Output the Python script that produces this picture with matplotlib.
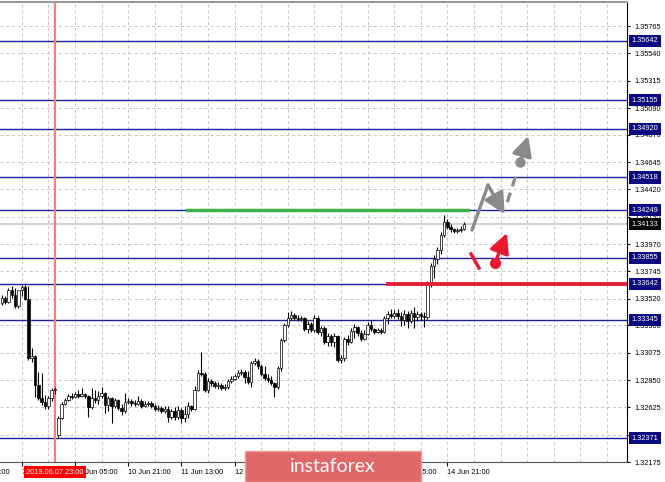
import numpy as np
import matplotlib.pyplot as plt
from matplotlib.patches import Rectangle
from matplotlib.transforms import blended_transform_factory

plt.rcParams['font.family'] = ['Liberation Sans', 'DejaVu Sans']

# GBP/USD H1 candles
opens = [1.33484, 1.33526, 1.33493, 1.33591, 1.33550, 1.33460, 1.33591, 1.33616, 1.33517, 1.33032,
         1.33048, 1.32809, 1.32702, 1.32669, 1.32636, 1.32702, 1.32768, 1.32398, 1.32537, 1.32653,
         1.32686, 1.32719, 1.32710, 1.32735, 1.32719, 1.32735, 1.32719, 1.32628, 1.32702, 1.32686,
         1.32719, 1.32743, 1.32644, 1.32702, 1.32636, 1.32686, 1.32620, 1.32595, 1.32669, 1.32677,
         1.32661, 1.32653, 1.32677, 1.32636, 1.32653, 1.32661, 1.32636, 1.32611, 1.32620, 1.32595,
         1.32611, 1.32546, 1.32595, 1.32546, 1.32603, 1.32537, 1.32570, 1.32636, 1.32611, 1.32768,
         1.32908, 1.32900, 1.32768, 1.32842, 1.32826, 1.32801, 1.32809, 1.32785, 1.32793, 1.32842,
         1.32859, 1.32883, 1.32908, 1.32916, 1.32875, 1.32834, 1.32991, 1.33007, 1.32966, 1.32900,
         1.32867, 1.32850, 1.32826, 1.32793, 1.32949, 1.33180, 1.33303, 1.33361, 1.33386, 1.33361,
         1.33353, 1.33361, 1.33271, 1.33312, 1.33262, 1.33361, 1.33246, 1.33279, 1.33164, 1.33213,
         1.33164, 1.33213, 1.33015, 1.33032, 1.33188, 1.33164, 1.33254, 1.33287, 1.33238, 1.33188,
         1.33229, 1.33303, 1.33271, 1.33246, 1.33262, 1.33246, 1.33361, 1.33394, 1.33378, 1.33402,
         1.33378, 1.33345, 1.33394, 1.33336, 1.33402, 1.33369, 1.33394, 1.33378, 1.33369, 1.33632,
         1.33788, 1.33846, 1.33920, 1.34044, 1.34151, 1.34110, 1.34094, 1.34077, 1.34085, 1.34094]
highs = [1.33550, 1.33542, 1.33608, 1.33624, 1.33608, 1.33583, 1.33632, 1.33649, 1.33624, 1.33114,
         1.33057, 1.32916, 1.32908, 1.32727, 1.32719, 1.32785, 1.32793, 1.32554, 1.32669, 1.32702,
         1.32735, 1.32743, 1.32752, 1.32768, 1.32785, 1.32743, 1.32727, 1.32785, 1.32768, 1.32760,
         1.32793, 1.32752, 1.32719, 1.32710, 1.32702, 1.32694, 1.32653, 1.32743, 1.32702, 1.32694,
         1.32686, 1.32719, 1.32694, 1.32677, 1.32677, 1.32677, 1.32653, 1.32644, 1.32636, 1.32636,
         1.32636, 1.32611, 1.32628, 1.32636, 1.32620, 1.32636, 1.32669, 1.32644, 1.32801, 1.32933,
         1.33081, 1.32916, 1.32867, 1.32859, 1.32842, 1.32834, 1.32826, 1.32818, 1.32859, 1.32883,
         1.32900, 1.32933, 1.32941, 1.32933, 1.32925, 1.33007, 1.33032, 1.33024, 1.32982, 1.32966,
         1.32900, 1.32883, 1.32834, 1.32966, 1.33197, 1.33320, 1.33410, 1.33419, 1.33402, 1.33386,
         1.33378, 1.33369, 1.33336, 1.33328, 1.33386, 1.33378, 1.33295, 1.33295, 1.33238, 1.33229,
         1.33238, 1.33221, 1.33057, 1.33205, 1.33221, 1.33279, 1.33312, 1.33295, 1.33262, 1.33262,
         1.33328, 1.33345, 1.33279, 1.33279, 1.33279, 1.33378, 1.33419, 1.33435, 1.33427, 1.33435,
         1.33410, 1.33427, 1.33419, 1.33427, 1.33452, 1.33419, 1.33410, 1.33410, 1.33665, 1.33813,
         1.33879, 1.33945, 1.34069, 1.34209, 1.34176, 1.34135, 1.34102, 1.34102, 1.34118, 1.34151]
lows = [1.33468, 1.33476, 1.33484, 1.33526, 1.33443, 1.33443, 1.33542, 1.33509, 1.33015, 1.32999,
        1.32710, 1.32686, 1.32644, 1.32611, 1.32611, 1.32677, 1.32735, 1.32381, 1.32529, 1.32644,
        1.32677, 1.32694, 1.32702, 1.32702, 1.32710, 1.32702, 1.32546, 1.32611, 1.32661, 1.32653,
        1.32702, 1.32579, 1.32595, 1.32496, 1.32620, 1.32603, 1.32562, 1.32579, 1.32653, 1.32636,
        1.32636, 1.32644, 1.32620, 1.32628, 1.32636, 1.32620, 1.32595, 1.32595, 1.32579, 1.32579,
        1.32504, 1.32529, 1.32521, 1.32529, 1.32496, 1.32504, 1.32537, 1.32595, 1.32603, 1.32760,
        1.32883, 1.32752, 1.32743, 1.32801, 1.32785, 1.32776, 1.32768, 1.32768, 1.32776, 1.32826,
        1.32850, 1.32867, 1.32892, 1.32826, 1.32818, 1.32793, 1.32974, 1.32941, 1.32883, 1.32850,
        1.32834, 1.32809, 1.32710, 1.32776, 1.32925, 1.33164, 1.33287, 1.33345, 1.33345, 1.33336,
        1.33336, 1.33254, 1.33238, 1.33246, 1.33246, 1.33229, 1.33213, 1.33147, 1.33131, 1.33131,
        1.33122, 1.32999, 1.32991, 1.33007, 1.33139, 1.33155, 1.33197, 1.33213, 1.33172, 1.33180,
        1.33221, 1.33254, 1.33229, 1.33238, 1.33229, 1.33238, 1.33312, 1.33361, 1.33361, 1.33353,
        1.33295, 1.33303, 1.33279, 1.33320, 1.33279, 1.33336, 1.33345, 1.33287, 1.33353, 1.33616,
        1.33690, 1.33805, 1.33887, 1.34028, 1.34094, 1.34069, 1.34061, 1.34061, 1.34069, 1.34085]
closes = [1.33526, 1.33493, 1.33591, 1.33550, 1.33460, 1.33591, 1.33616, 1.33517, 1.33032, 1.33048,
          1.32809, 1.32702, 1.32669, 1.32636, 1.32702, 1.32768, 1.32776, 1.32537, 1.32653, 1.32686,
          1.32719, 1.32710, 1.32735, 1.32719, 1.32735, 1.32719, 1.32628, 1.32702, 1.32686, 1.32719,
          1.32743, 1.32644, 1.32702, 1.32636, 1.32686, 1.32620, 1.32595, 1.32669, 1.32677, 1.32661,
          1.32653, 1.32677, 1.32636, 1.32653, 1.32661, 1.32636, 1.32611, 1.32620, 1.32595, 1.32611,
          1.32546, 1.32595, 1.32546, 1.32603, 1.32537, 1.32570, 1.32636, 1.32611, 1.32768, 1.32908,
          1.32900, 1.32768, 1.32842, 1.32826, 1.32801, 1.32809, 1.32785, 1.32793, 1.32842, 1.32859,
          1.32883, 1.32908, 1.32916, 1.32875, 1.32834, 1.32991, 1.33007, 1.32966, 1.32900, 1.32867,
          1.32850, 1.32826, 1.32793, 1.32949, 1.33180, 1.33303, 1.33361, 1.33386, 1.33361, 1.33353,
          1.33361, 1.33271, 1.33312, 1.33262, 1.33361, 1.33246, 1.33279, 1.33164, 1.33213, 1.33164,
          1.33213, 1.33015, 1.33032, 1.33188, 1.33164, 1.33254, 1.33287, 1.33238, 1.33188, 1.33229,
          1.33303, 1.33271, 1.33246, 1.33262, 1.33246, 1.33361, 1.33394, 1.33378, 1.33402, 1.33378,
          1.33345, 1.33394, 1.33336, 1.33402, 1.33369, 1.33394, 1.33378, 1.33369, 1.33632, 1.33788,
          1.33846, 1.33920, 1.34044, 1.34151, 1.34110, 1.34094, 1.34077, 1.34085, 1.34094, 1.34133]

# horizontal levels (blue) and special lines
levels = [1.35642, 1.35155, 1.34920, 1.34518, 1.34249, 1.33855, 1.33642, 1.33345, 1.32371]
current_price = 1.34133
green_level = 1.34249
green_from, green_to = 55.7, 140.2
red_level = 1.33642
red_from = 116.1
cross_bar = 16  # 2019.06.07 23:00

price_ticks = [1.32175, 1.32400, 1.32625, 1.32850, 1.33075, 1.33300, 1.33520, 1.33745, 1.33970,
               1.34195, 1.34420, 1.34645, 1.34870, 1.35090, 1.35315, 1.35540, 1.35765]
time_ticks = [6, 22, 38, 54, 70, 86, 102, 118, 134]
time_labels = ['7 Jun 13:00', '10 Jun 05:00', '10 Jun 21:00', '11 Jun 13:00', '12 Jun 05:00',
               '12 Jun 21:00', '13 Jun 13:00', '14 Jun 05:00', '14 Jun 21:00']

# forecast scribbles (bar, price)
gray_path = [(141.4, 1.34085), (146.2, 1.34456), (151.2, 1.34215)]
gray_dash = [(152.0, 1.34315), (155.0, 1.34570)]
gray_dot = (155.8, 1.34645)
gray_tip = (158.3, 1.34860)
red_stroke = [(141.1, 1.33888), (143.5, 1.33772)]
red_dot = (148.3, 1.33814)
red_tip = (151.9, 1.34061)

fig = plt.figure(figsize=(6.65, 4.82), dpi=100)
ax = fig.add_axes([0, 20 / 482, 627 / 665, 460 / 482])
ax.set_xlim(-0.54, 188.0)
ax.set_ylim(1.32175, 1.35963)

# grid
for t in price_ticks:
    ax.axhline(t, color='#c4c4c4', lw=0.7, ls=(0, (3, 3)), zorder=0)
for b in np.arange(-2, 190, 8):
    ax.axvline(b, color='#c4c4c4', lw=0.7, ls=(0, (3, 3)), zorder=0)

ax.axhline(current_price, color='#c8c8c8', lw=1.2, zorder=1)
for lv in levels:
    ax.axhline(lv, color='#1f1f99', lw=1.0, zorder=1)
ax.axvline(cross_bar, color='#ff7b7b', lw=1.6, zorder=1)

# candles
x = np.arange(len(closes))
o = np.array(opens); h = np.array(highs); l = np.array(lows); c = np.array(closes)
ax.vlines(x, l, h, color='black', lw=0.8, zorder=3)
up = c >= o
body = np.maximum(np.abs(c - o), 0.00003)
ax.bar(x[up], body[up], bottom=np.minimum(o, c)[up], width=0.75, color='white',
       edgecolor='black', lw=0.5, zorder=4)
ax.bar(x[~up], body[~up], bottom=np.minimum(o, c)[~up], width=0.75, color='black',
       edgecolor='black', lw=0.5, zorder=4)

ax.plot([green_from, green_to], [green_level, green_level], color='#3cb44b', lw=2.5, zorder=5)
ax.plot([red_from, 188.0], [red_level, red_level], color='#e3203a', lw=2.8, zorder=5)

head = '-|>,head_length=0.8,head_width=0.4'
# gray forecast
gx, gy = zip(*gray_path)
ax.plot(gx[:2], gy[:2], color='#8a8a8a', lw=2.4, solid_capstyle='round', zorder=6)
ax.annotate('', xy=gray_path[2], xytext=gray_path[1],
            arrowprops=dict(arrowstyle=head, color='#8a8a8a',
                            lw=2.4, shrinkA=0, shrinkB=0, mutation_scale=16), zorder=6)
dx, dy = zip(*gray_dash)
ax.plot(dx, dy, color='#8a8a8a', lw=2.4, ls=(0, (3, 2)), zorder=6)
ax.plot(*gray_dot, 'o', color='#8a8a8a', ms=6.5, zorder=6)
ax.annotate('', xy=gray_tip, xytext=gray_dot,
            arrowprops=dict(arrowstyle=head, color='#8a8a8a',
                            lw=2.4, shrinkA=3, shrinkB=0, mutation_scale=15), zorder=6)

# red forecast
rx, ry = zip(*red_stroke)
ax.plot(rx, ry, color='#e8182e', lw=2.4, zorder=6)
ax.plot(*red_dot, 'o', color='#e8182e', ms=7, zorder=6)
ax.annotate('', xy=red_tip, xytext=red_dot,
            arrowprops=dict(arrowstyle=head, color='#e8182e',
                            lw=2.4, shrinkA=3, shrinkB=0, mutation_scale=15), zorder=6)

# axes styling
ax.spines['left'].set_visible(False)
ax.spines['top'].set_color('#9a9a9a')
ax.spines['top'].set_linewidth(1.5)
ax.spines['right'].set_color('black')
ax.spines['bottom'].set_color('#555555')
ax.yaxis.tick_right()
ax.set_yticks(price_ticks, [f'{t:.5f}' for t in price_ticks])
ax.tick_params(axis='y', labelsize=5.3, length=2, pad=3, colors='black')
ax.set_xticks(time_ticks, time_labels)
ax.tick_params(axis='x', labelsize=5.3, length=3, pad=2, colors='black')
for lbl in ax.get_xticklabels():
    lbl.set_horizontalalignment('left')

# level boxes on the price scale
tr = blended_transform_factory(ax.transAxes, ax.transData)
for lv in levels:
    ax.text(1.0075, lv, f'{lv:.5f}', transform=tr, ha='left', va='center', fontsize=5.3,
            color='white', clip_on=False, zorder=10,
            bbox=dict(boxstyle='square,pad=0.35', fc='#0a0a80', ec='none'))
ax.text(1.0075, current_price, f'{current_price:.5f}', transform=tr, ha='left', va='center',
        fontsize=5.3, color='white', clip_on=False, zorder=10,
        bbox=dict(boxstyle='square,pad=0.35', fc='black', ec='none'))

# clipped label at the left edge
fig.text(-29 / 665, 1 - 472 / 482, '6 Jun 21:00', fontsize=5.3, ha='left', va='center')

# crosshair time label
fig.text(55 / 665, 1 - 472 / 482, '2019.06.07 23:00', fontsize=5.3, color='white',
         ha='center', va='center', bbox=dict(boxstyle='square,pad=0.3', fc='#ff0000', ec='none'))

# banner
fig.patches.append(Rectangle((245 / 665, 0), 176 / 665, 31 / 482, transform=fig.transFigure,
                             facecolor='#e06868', edgecolor='#ee9a9a', lw=1, zorder=20))
fig.text(333 / 665, 1 - 466 / 482, 'instaforex', fontsize=14, color='white', family='Lato',
         ha='center', va='center', zorder=21)

fig.savefig('out.png', dpi=100)
